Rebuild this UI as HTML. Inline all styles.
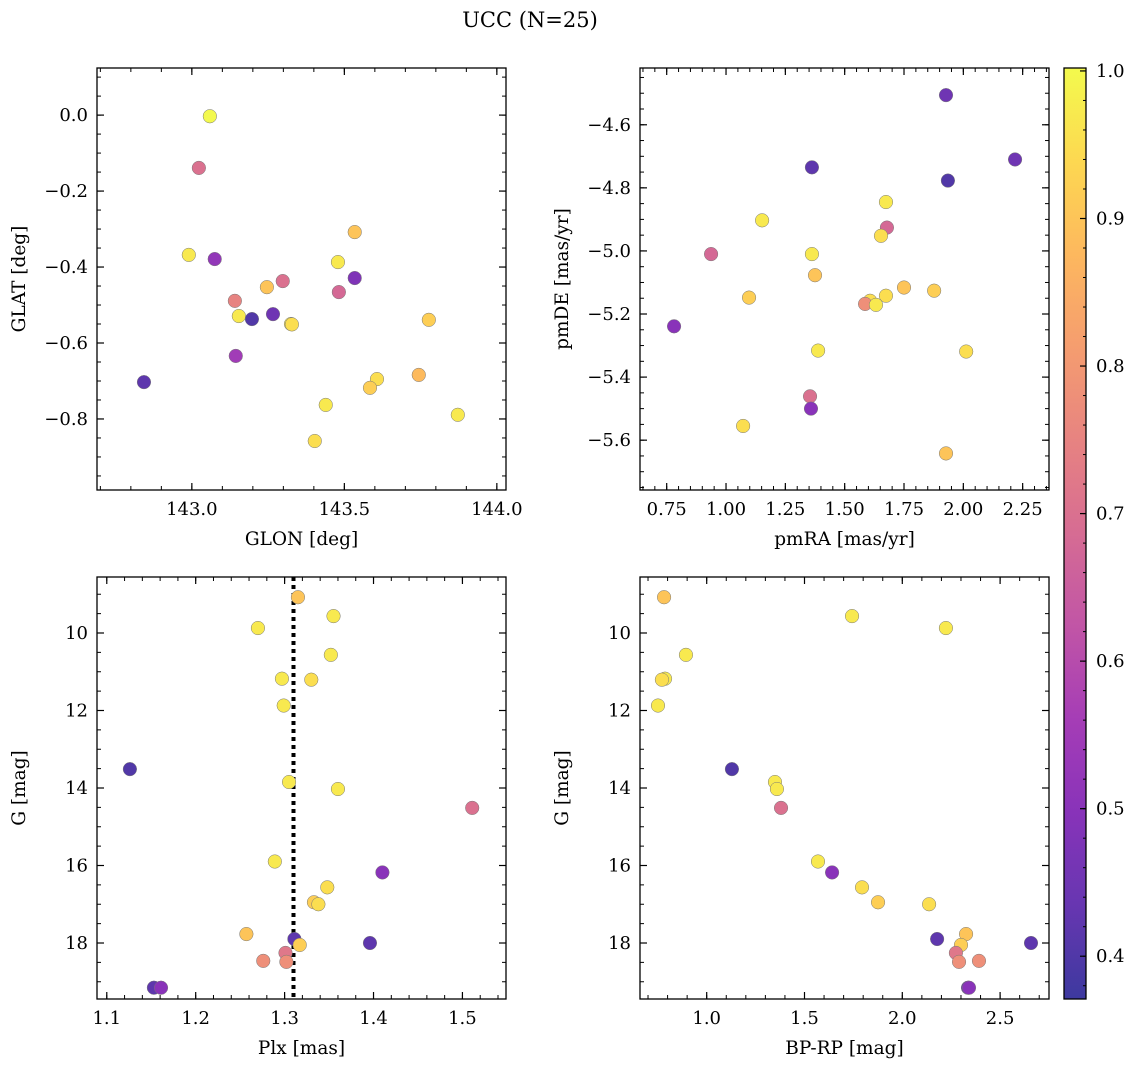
<!DOCTYPE html>
<html><head><meta charset="utf-8">
<style>
html,body{margin:0;padding:0;background:#fff;}
svg{display:block;font-family:"DejaVu Serif","Liberation Serif",serif;}
</style></head>
<body>
<svg id="fig" width="1136" height="1067" xmlns="http://www.w3.org/2000/svg">
<text x="530" y="27" font-size="21" text-anchor="middle">UCC (N=25)</text>
</svg>
<script>
// ---- Panel data ----
const glon = [143.059,143.023,142.990,143.075,143.534,143.479,143.534,143.482,143.298,143.246,143.141,143.154,143.197,143.266,143.325,143.144,142.843,143.607,143.584,143.744,143.777,143.439,143.403,143.872,143.328];
const glat = [-0.003,-0.139,-0.368,-0.379,-0.308,-0.387,-0.429,-0.466,-0.437,-0.453,-0.489,-0.529,-0.537,-0.524,-0.550,-0.634,-0.703,-0.695,-0.718,-0.684,-0.539,-0.763,-0.858,-0.789,-0.551];
const probPos = [1.0,0.70,0.97,0.52,0.90,0.97,0.48,0.68,0.70,0.90,0.75,0.97,0.40,0.45,0.97,0.55,0.42,0.95,0.92,0.88,0.92,0.97,0.95,0.97,0.95];

const pmra = [1.927,2.218,1.362,1.935,1.674,1.152,1.678,1.653,0.937,1.362,1.375,1.750,1.877,1.674,1.097,1.607,1.586,1.632,0.781,1.388,2.012,1.354,1.358,1.072,1.927];
const pmde = [-4.506,-4.710,-4.735,-4.777,-4.845,-4.903,-4.926,-4.952,-5.010,-5.010,-5.077,-5.116,-5.126,-5.142,-5.148,-5.158,-5.168,-5.171,-5.239,-5.316,-5.319,-5.461,-5.500,-5.555,-5.642];
const probPm = [0.45,0.45,0.42,0.40,0.97,0.97,0.68,0.95,0.68,0.97,0.90,0.90,0.92,0.95,0.92,0.95,0.78,0.97,0.50,0.97,0.95,0.70,0.50,0.95,0.90];

const plx = [1.315,1.355,1.270,1.352,1.297,1.330,1.299,1.126,1.305,1.360,1.511,1.289,1.410,1.348,1.333,1.338,1.257,1.311,1.317,1.396,1.301,1.302,1.276,1.153,1.161];
const bprp = [0.782,1.743,2.223,0.894,0.787,0.771,0.751,1.129,1.349,1.359,1.380,1.569,1.641,1.794,1.876,2.137,2.326,2.178,2.300,2.658,2.274,2.290,2.392,2.336,2.341];
const gmag = [9.077,9.564,9.872,10.564,11.179,11.205,11.872,13.513,13.846,14.026,14.513,15.897,16.179,16.564,16.949,17.000,17.769,17.897,18.051,18.000,18.256,18.487,18.461,19.154,19.154];
const probCmd = [0.90,0.97,0.97,0.97,0.97,0.95,0.97,0.40,0.97,0.97,0.70,0.97,0.50,0.95,0.92,0.95,0.90,0.42,0.92,0.42,0.72,0.78,0.78,0.42,0.50];
const plxMedian = [1.31];
const cbTicks = [0.4,0.5,0.6,0.7,0.8,0.9,1.0];
const vmin = 0.371, vmax = 1.002;

const NS = "http://www.w3.org/2000/svg";
const svg = document.getElementById('fig');
function mk(tag, attrs, parent){ const e=document.createElementNS(NS,tag); for(const k in attrs) e.setAttribute(k,attrs[k]); (parent||svg).appendChild(e); return e; }

const stops=["#0d0887","#41049d","#6a00a8","#8f0da4","#b12a90","#cc4778","#e16462","#f2844b","#fca636","#fcce25","#f0f921"];
function hex(h){return [parseInt(h.substr(1,2),16),parseInt(h.substr(3,2),16),parseInt(h.substr(5,2),16)];}
function plasma(t){ t=Math.max(0,Math.min(1,t)); const f=t*10, i=Math.min(9,Math.floor(f)), u=f-i; const a=hex(stops[i]), b=hex(stops[i+1]);
  const c=a.map((v,k)=>Math.round((v+(b[k]-v)*u)*0.8+255*0.2)); return `rgb(${c[0]},${c[1]},${c[2]})`; }
function col(p){return plasma((p-vmin)/(vmax-vmin));}

function panel(o){
  const {L,T,R,B,xmin,xmax,ymin,ymax,invY,xs,ys,ps,xMaj,xMin,yMaj,yMin,xDec,yDec,xlabel,ylabel,name}=o;
  const g=mk('g',{});
  
  
  const X=v=>L+(v-xmin)/(xmax-xmin)*(R-L);
  const Y=v=> invY ? T+(v-ymin)/(ymax-ymin)*(B-T) : B-(v-ymin)/(ymax-ymin)*(B-T);
  const tk=(step,lo,hi)=>{const a=[];for(let k=Math.ceil(lo/step-1e-9);k*step<=hi+1e-9;k++)a.push(+(k*step).toFixed(6));return a;};
  tk(xMin,xmin,xmax).forEach(v=>{const x=X(v);mk('line',{x1:x,x2:x,y1:B,y2:B-4,stroke:'#000','stroke-width':1},g);mk('line',{x1:x,x2:x,y1:T,y2:T+4,stroke:'#000','stroke-width':1},g);});
  tk(yMin,ymin,ymax).forEach(v=>{const y=Y(v);mk('line',{x1:L,x2:L+4,y1:y,y2:y,stroke:'#000','stroke-width':1},g);mk('line',{x1:R,x2:R-4,y1:y,y2:y,stroke:'#000','stroke-width':1},g);});
  tk(xMaj,xmin,xmax).forEach(v=>{const x=X(v);mk('line',{x1:x,x2:x,y1:B,y2:B-7,stroke:'#000','stroke-width':1.2},g);mk('line',{x1:x,x2:x,y1:T,y2:T+7,stroke:'#000','stroke-width':1.2},g);
    const t=mk('text',{x:x,y:B+25,'font-size':18,'text-anchor':'middle'},g);t.textContent=v.toFixed(xDec).replace('-','−');
    
    });
  tk(yMaj,ymin,ymax).forEach(v=>{const y=Y(v);mk('line',{x1:L,x2:L+7,y1:y,y2:y,stroke:'#000','stroke-width':1.2},g);mk('line',{x1:R,x2:R-7,y1:y,y2:y,stroke:'#000','stroke-width':1.2},g);
    const t=mk('text',{x:L-9,y:y+6,'font-size':18,'text-anchor':'end'},g);t.textContent=v.toFixed(yDec).replace('-','−');
    
    });
  if(o.vline){ o.vline.forEach(v=>{const l=mk('line',{x1:X(v),x2:X(v),y1:T,y2:B,stroke:'#000','stroke-width':4,'stroke-dasharray':'4 4'},g);
    
    }); }
  xs.forEach((v,i)=>{const c=mk('circle',{cx:X(v),cy:Y(ys[i]),r:6.8,fill:col(ps[i]),stroke:'#777','stroke-width':0.5},g);
    
    });
  const f=mk('rect',{x:L,y:T,width:R-L,height:B-T,fill:'none',stroke:'#000','stroke-width':1.3},g);
  
  
  const xl=mk('text',{x:(L+R)/2,y:B+55,'font-size':18.5,'text-anchor':'middle'},g);xl.textContent=xlabel;
  
  
  const yx=L-72, yy=(T+B)/2;
  const yl=mk('text',{x:yx,y:yy,'font-size':18.5,'text-anchor':'middle',transform:`rotate(-90 ${yx} ${yy})`},g);yl.textContent=ylabel;
  
  
}

panel({name:'glon-glat-panel',L:97,T:68,R:506,B:490,xmin:142.689,xmax:144.030,ymin:-0.987,ymax:0.124,xs:glon,ys:glat,ps:probPos,xMaj:0.5,xMin:0.1,yMaj:0.2,yMin:0.05,xDec:1,yDec:1,xlabel:'GLON [deg]',ylabel:'GLAT [deg]'});
panel({name:'proper-motion-panel',L:640,T:68,R:1049,B:490,xmin:0.6375,xmax:2.361,ymin:-5.758,ymax:-4.42,xs:pmra,ys:pmde,ps:probPm,xMaj:0.25,xMin:0.05,yMaj:0.2,yMin:0.05,xDec:2,yDec:1,xlabel:'pmRA [mas/yr]',ylabel:'pmDE [mas/yr]'});
panel({name:'plx-g-panel',L:97,T:577,R:506,B:999,xmin:1.089,xmax:1.549,ymin:8.555,ymax:19.445,invY:true,xs:plx,ys:gmag,ps:probCmd,xMaj:0.1,xMin:0.02,yMaj:2,yMin:0.5,xDec:1,yDec:0,xlabel:'Plx [mas]',ylabel:'G [mag]',vline:plxMedian});
panel({name:'cmd-panel',L:640,T:577,R:1049,B:999,xmin:0.659,xmax:2.750,ymin:8.555,ymax:19.445,invY:true,xs:bprp,ys:gmag,ps:probCmd,xMaj:0.5,xMin:0.1,yMaj:2,yMin:0.5,xDec:1,yDec:0,xlabel:'BP-RP [mag]',ylabel:'G [mag]'});

// colorbar
const cb=mk('g',{});


const cT=68,cB=999,cL=1064,cR=1086;
const defs=mk('defs',{},cb);
const grad=mk('linearGradient',{id:'cbg',x1:0,y1:1,x2:0,y2:0},defs);
for(let i=0;i<=20;i++){mk('stop',{offset:i/20,'stop-color':plasma(i/20)},grad);}
mk('rect',{x:cL,y:cT,width:cR-cL,height:cB-cT,fill:'url(#cbg)',stroke:'#000','stroke-width':1.3},cb);
const CY=v=>cB-(v-vmin)/(vmax-vmin)*(cB-cT);
for(let k=19;k<=50;k++){const y=CY(k*0.02);mk('line',{x1:cR,x2:cR-3,y1:y,y2:y,stroke:'#000','stroke-width':1},cb);}
cbTicks.forEach(v=>{const y=CY(v);mk('line',{x1:cR,x2:cR-6,y1:y,y2:y,stroke:'#000','stroke-width':1.2},cb);
  const t=mk('text',{x:cR+10,y:y+6,'font-size':18},cb);t.textContent=v.toFixed(1);
  
  });
</script>
</body></html>
